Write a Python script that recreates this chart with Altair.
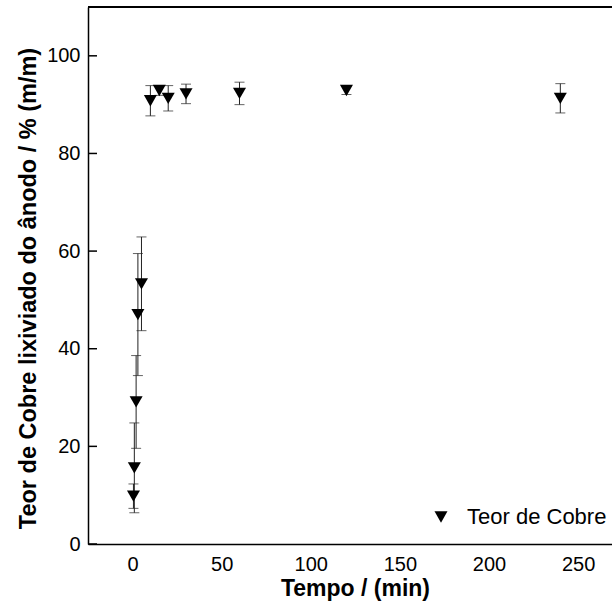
import altair as alt
import pandas as pd

# Data
tempo = [0.5, 1, 2, 3, 5, 10, 15, 20, 30, 60, 120, 240]
teor = [9.8, 15.6, 29.1, 47.0, 53.3, 90.8, 92.9, 91.3, 92.2, 92.3, 92.9, 91.3]
erro = [2.5, 9.2, 9.5, 12.5, 9.6, 3.1, 1.0, 2.6, 2.0, 2.3, 0.8, 3.0]
serie = "Teor de Cobre"
y_ticks = [0, 20, 40, 60, 80, 100]
x_ticks = [0, 50, 100, 150, 200, 250]

df = pd.DataFrame({
    "t": tempo,
    "y": teor,
    "lo": [a - b for a, b in zip(teor, erro)],
    "hi": [a + b for a, b in zip(teor, erro)],
    "s": [serie] * len(tempo),
})
ticks_df = pd.DataFrame({"v": y_ticks})

W, H = 524, 537
FONT = "Liberation Sans"

xs = alt.Scale(domain=[-25, 269], nice=False, zero=False)
ys = alt.Scale(domain=[0, 110], nice=False, zero=False)

x_axis = alt.Axis(
    values=x_ticks, ticks=False, grid=False, domainColor="black", domainWidth=1.5,
    labelFontSize=20, labelFont=FONT, labelColor="black", labelPadding=10,
    title="Tempo / (min)", titleFont=FONT, titleFontSize=23, titleFontWeight="bold",
    titleColor="black", titlePadding=3, titleX=267,
)
y_axis = alt.Axis(
    values=y_ticks, ticks=False, grid=False, domainColor="black", domainWidth=1.5,
    labelFontSize=20, labelFont=FONT, labelColor="black", labelPadding=8,
    title="Teor de Cobre lixiviado do ânodo / % (m/m)", titleFont=FONT,
    titleFontSize=23.5, titleFontWeight="bold", titleColor="black", titlePadding=6,
    titleY=281,
)

base = alt.Chart(df)

bars = base.mark_rule(color="#222222", strokeWidth=1).encode(
    x=alt.X("t:Q", scale=xs, axis=x_axis),
    y=alt.Y("lo:Q", scale=ys, axis=y_axis),
    y2="hi:Q",
)
cap_lo = base.mark_tick(orient="horizontal", color="#222222", thickness=1, size=10).encode(
    x=alt.X("t:Q", scale=xs), y=alt.Y("lo:Q", scale=ys)
)
cap_hi = base.mark_tick(orient="horizontal", color="#222222", thickness=1, size=10).encode(
    x=alt.X("t:Q", scale=xs), y=alt.Y("hi:Q", scale=ys)
)
points = base.mark_point(filled=True, opacity=1, size=170, color="black").encode(
    x=alt.X("t:Q", scale=xs),
    y=alt.Y("y:Q", scale=ys),
    shape=alt.Shape("s:N", scale=alt.Scale(range=["triangle-down"]),
                    legend=alt.Legend(title=None, orient="none", legendX=342, legendY=499,
                                      padding=0, labelFont=FONT, labelFontSize=22,
                                      labelColor="black", symbolSize=170,
                                      symbolFillColor="black", symbolStrokeWidth=0,
                                      labelOffset=15)),
)
inner_ticks = alt.Chart(ticks_df).mark_rule(color="black", strokeWidth=1.5).encode(
    y=alt.Y("v:Q", scale=ys), x=alt.value(0), x2=alt.value(9)
)
top_line = alt.Chart(ticks_df).mark_rule(color="black", strokeWidth=1.5).encode(
    y=alt.value(0), x=alt.value(0), x2=alt.value(W)
)

chart = alt.layer(inner_ticks, top_line, bars, cap_lo, cap_hi, points).properties(
    width=W, height=H,
    autosize=alt.AutoSizeParams(type="none"),
    padding={"left": 88, "top": 7, "right": 0, "bottom": 63},
    background="white",
).configure_view(stroke=None)

chart.save("out.html", embed_options={"renderer": "svg", "actions": False})
